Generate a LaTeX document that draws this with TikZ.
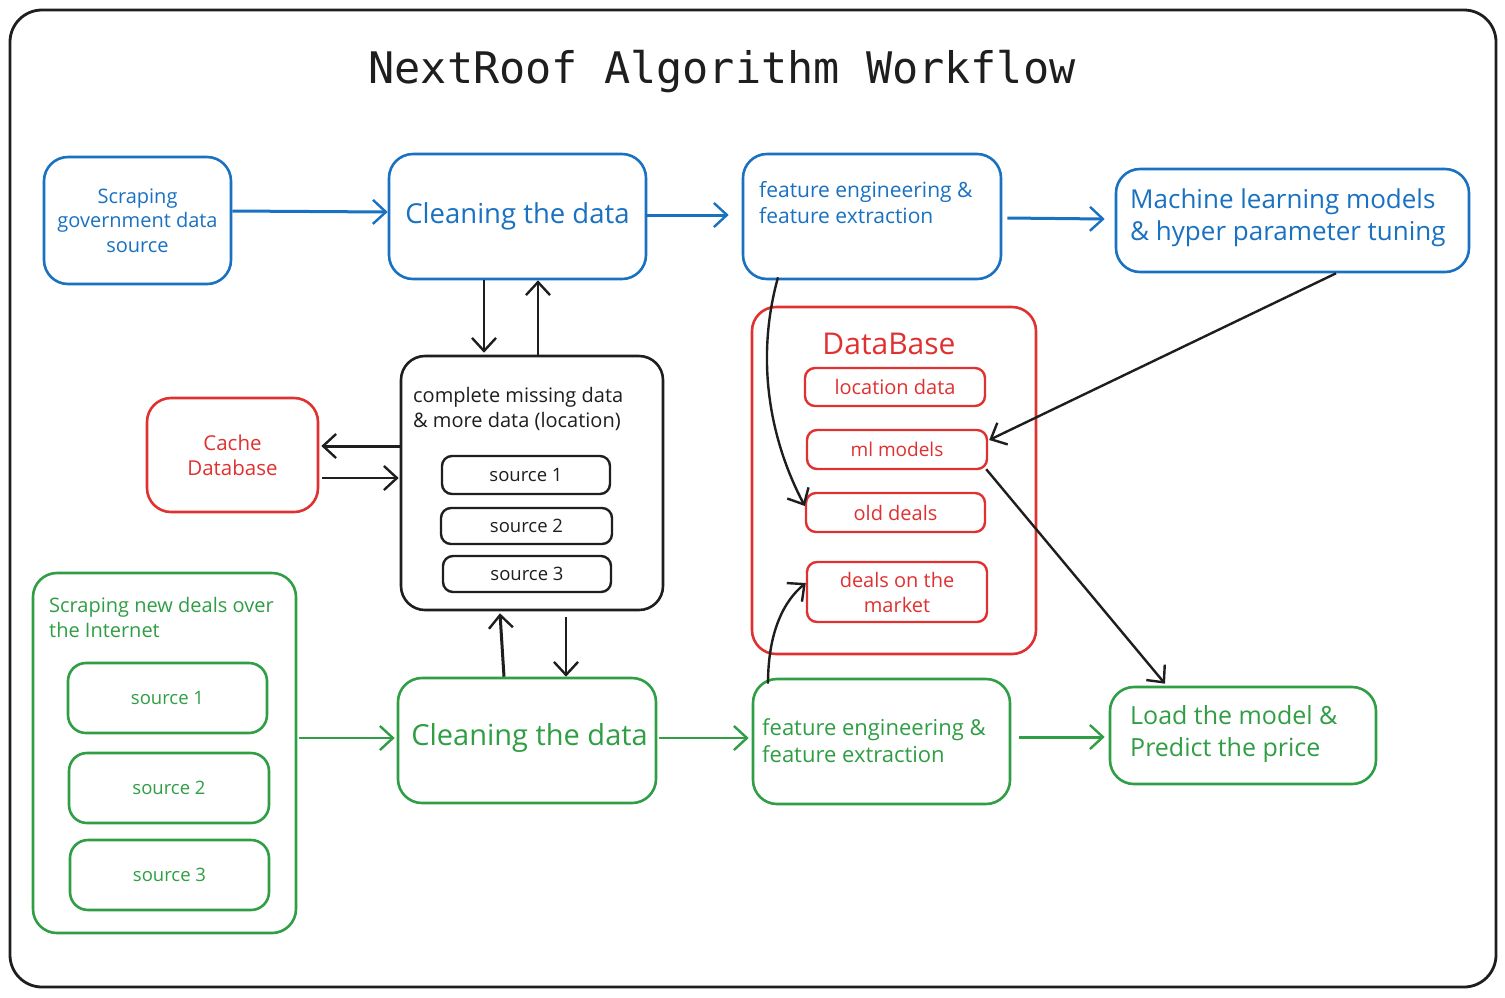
\documentclass[tikz,border=0pt]{standalone}
\usepackage{fontspec}
\setmainfont{Open Sans}
\newfontfamily\titlefont{DejaVu Sans Mono}
\usetikzlibrary{arrows.meta,calc}
\definecolor{xblue}{HTML}{1971C2}
\definecolor{xred}{HTML}{E03131}
\definecolor{xgreen}{HTML}{2F9E44}
\definecolor{xblack}{HTML}{1E1E1E}
\begin{document}
\begin{tikzpicture}[x=1pt,y=-1pt,
  box/.style={draw, line width=2.6pt, rounded corners=24pt, inner sep=0pt, align=center},
  sbox/.style={draw, line width=2.4pt, rounded corners=10pt, inner sep=0pt, align=center},
  txt/.style={inner sep=0pt, anchor=west, align=left},
  arr/.style={line width=2.4pt, -{Straight Barb[length=13pt,width=24pt,line width=2.4pt]}},
  carr/.style={arr, line width=3pt},
]
\useasboundingbox (0,0) rectangle (1505,997);
\fill[white] (0,0) rectangle (1505,997);
\draw[line width=2.8pt, xblack, rounded corners=32pt] (10,10) rectangle (1496,987);

\node[xblack, font=\titlefont\fontsize{43.5}{50}\selectfont] (title) at (722,72) {NextRoof Algorithm Workflow};

% blue row
\node[box, xblue, minimum width=187pt, minimum height=127pt, font=\fontsize{20}{24.5}\selectfont] (b1) at (137.5,220.5) {Scraping\\government data\\source};
\node[box, xblue, minimum width=257pt, minimum height=125pt, font=\fontsize{27.5}{32}\selectfont] (b2) at (517.5,216.5) {Cleaning the data};
\node[box, xblue, minimum width=258pt, minimum height=125pt] (b3) at (872,216.5) {};
\node[txt, xblue, font=\fontsize{21}{26}\selectfont] (b3t) at (759,203) {feature engineering \&\\feature extraction};
\node[box, xblue, minimum width=353pt, minimum height=103pt] (b4) at (1292.5,220.5) {};
\node[txt, xblue, font=\fontsize{26}{32}\selectfont] (b4t) at (1130,218) {Machine learning models\\\& hyper parameter tuning};

\draw[carr, xblue] ([yshift=9.5pt]b1.east) -- ([yshift=4.5pt]b2.west);
\draw[carr, xblue] ([yshift=1.5pt]b2.east) -- ([yshift=1.5pt, xshift=-13pt]b3.west);
\draw[carr, xblue] ([xshift=5pt, yshift=-1.5pt]b3.east) -- ([xshift=-10pt, yshift=1.5pt]b4.west);

% black box
\node[box, xblack, minimum width=262pt, minimum height=254pt] (blk) at (532,483) {};
\node[txt, xblack, font=\fontsize{20}{25}\selectfont] (blkt) at (413,408.5) {complete missing data\\\& more data (location)};
\node[sbox, xblack, minimum width=168pt, minimum height=38pt, font=\fontsize{18.5}{22}\selectfont] (k1) at (526,475) {source 1};
\node[sbox, xblack, minimum width=171pt, minimum height=36pt, font=\fontsize{18.5}{22}\selectfont] (k2) at (526.5,526) {source 2};
\node[sbox, xblack, minimum width=168pt, minimum height=36pt, font=\fontsize{18.5}{22}\selectfont] (k3) at (527,574) {source 3};

\draw[arr, xblack] ([xshift=-33.5pt]b2.south) -- ([xshift=-48pt, yshift=2pt]blk.north);
\draw[arr, xblack] ([xshift=6pt]blk.north) -- ([xshift=20.5pt]b2.south);

% cache
\node[box, xred, minimum width=171pt, minimum height=114pt, font=\fontsize{20.5}{25}\selectfont] (cache) at (232.5,455) {Cache\\Database};
\draw[carr, xblack] ([yshift=37pt, xshift=2pt]blk.west) -- ([yshift=9pt, xshift=2pt]cache.east);
\draw[arr, xblack] ([yshift=-23pt, xshift=3pt]cache.east) -- ([yshift=5pt, xshift=-1pt]blk.west);

% database
\node[box, xred, minimum width=284pt, minimum height=347pt] (db) at (894,480.5) {};
\node[xred, font=\fontsize{30}{34}\selectfont, inner sep=0pt] (dbt) at (889,344) {DataBase};
\node[sbox, xred, minimum width=180pt, minimum height=38pt, font=\fontsize{20}{24}\selectfont] (loc) at (895,387) {location data};
\node[sbox, xred, minimum width=180pt, minimum height=39pt, font=\fontsize{19}{24}\selectfont] (ml) at (897,449.5) {ml models};
\node[sbox, xred, minimum width=179pt, minimum height=39pt, font=\fontsize{20}{24}\selectfont] (old) at (895.5,512.5) {old deals};
\node[sbox, xred, minimum width=180pt, minimum height=60pt, font=\fontsize{20}{25}\selectfont] (mkt) at (897,592) {deals on the\\market};

\draw[arr, xblack] ([xshift=-94pt, yshift=3pt]b3.south) .. controls (755,360) and (770,440) .. ([yshift=6.5pt]old.west);
\draw[arr, xblack] ([xshift=43.5pt]b4.south) -- ([xshift=1pt, yshift=9.5pt]ml.east);

% green row
\node[box, xgreen, minimum width=263pt, minimum height=360pt] (gbig) at (164.5,753) {};
\node[txt, xgreen, font=\fontsize{20}{25}\selectfont] (gbigt) at (49,617.5) {Scraping new deals over\\the Internet};
\node[box, rounded corners=18pt, xgreen, minimum width=199pt, minimum height=70pt, font=\fontsize{18.5}{22}\selectfont] (g1) at (167.5,698) {source 1};
\node[box, rounded corners=18pt, xgreen, minimum width=200pt, minimum height=70pt, font=\fontsize{18.5}{22}\selectfont] (g2) at (169,788) {source 2};
\node[box, rounded corners=18pt, xgreen, minimum width=199pt, minimum height=70pt, font=\fontsize{18.5}{22}\selectfont] (g3) at (169.5,875) {source 3};

\node[box, xgreen, minimum width=258pt, minimum height=125pt] (gc) at (527,740.5) {};
\node[xgreen, font=\fontsize{29}{34}\selectfont, inner sep=0pt] (gct) at (529.5,738) {Cleaning the data};
\node[box, xgreen, minimum width=257pt, minimum height=125pt] (gf) at (881.5,741.5) {};
\node[txt, xgreen, font=\fontsize{22}{27}\selectfont] (gft) at (762,740.5) {feature engineering \&\\feature extraction};
\node[box, xgreen, minimum width=266pt, minimum height=97pt] (load) at (1243,735.5) {};
\node[txt, xgreen, font=\fontsize{25}{32}\selectfont] (loadt) at (1130,734) {Load the model \&\\Predict the price};

\draw[arr, xblack] ([xshift=-2pt, yshift=1pt]ml.south east) -- ([xshift=-78pt, yshift=2pt]load.north);

\draw[arr, xgreen] ([xshift=2pt, yshift=15pt]gbig.east) -- ([xshift=-2pt, yshift=2.5pt]gc.west);
\draw[arr, xgreen] ([xshift=2pt, yshift=2.5pt]gc.east) -- ([xshift=-3pt, yshift=3.5pt]gf.west);
\draw[carr, xgreen] ([xshift=8pt, yshift=4.5pt]gf.east) -- ([xshift=-4pt, yshift=-1.5pt]load.west);

\draw[carr, xblack] ([xshift=-23pt]gc.north) -- ([xshift=-32pt, yshift=-2pt]blk.south);
\draw[arr, xblack] ([xshift=34pt, yshift=-6pt]blk.south) -- ([xshift=39pt]gc.north);

\draw[arr, xblack] ([xshift=-113.5pt, yshift=-6pt]gf.north) .. controls (768,630) and (785,600) .. ([yshift=9pt]mkt.west);
\end{tikzpicture}
\end{document}
